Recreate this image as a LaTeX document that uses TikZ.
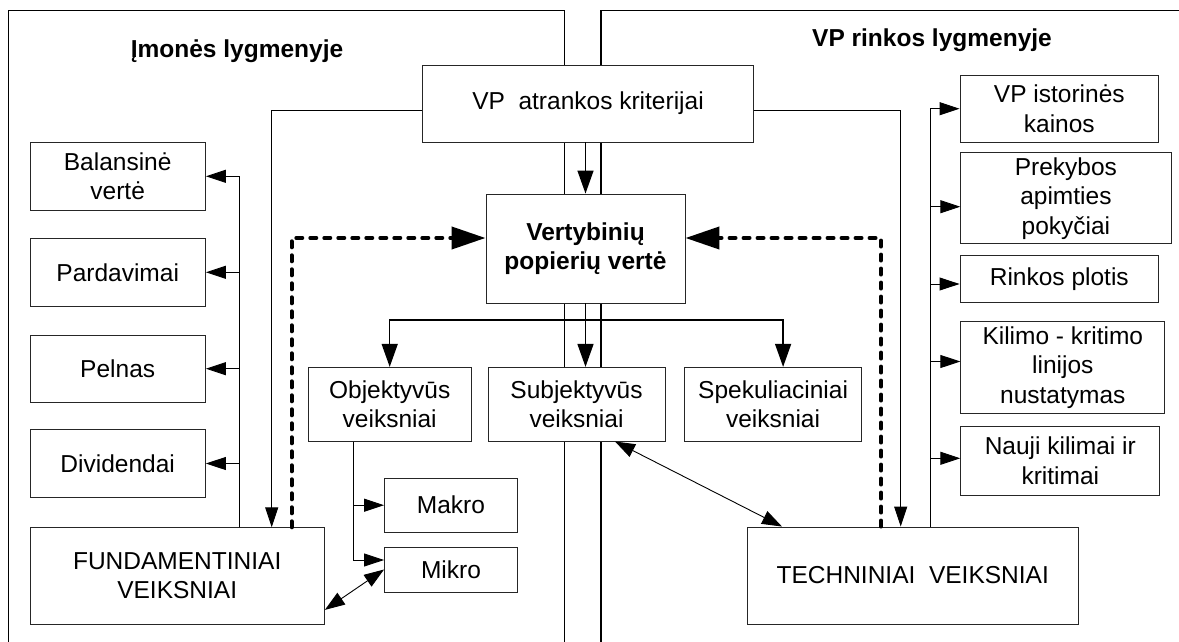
\documentclass[tikz,border=0pt]{standalone}
\usepackage{fontspec}
\setmainfont{Liberation Sans}
\usetikzlibrary{arrows.meta}
\begin{document}
\begin{tikzpicture}[x=1pt, y=-1pt,
      every node/.style={font=\fontsize{24.5}{29.5}\selectfont},
      strong/.style={font=\fontsize{24.5}{29.5}\selectfont\bfseries},
      box/.style={draw=black!85, fill=white, line width=0.9pt, align=center, inner sep=2pt},
      panel/.style={line width=1.6pt},
      conn/.style={line width=0.9pt, -{Triangle[length=20pt,width=13pt]}},
      mainconn/.style={line width=1.4pt, -{Triangle[length=23pt,width=16pt]}},
      twoway/.style={line width=0.9pt, {Triangle[length=20pt,width=14pt]}-{Triangle[length=20pt,width=14pt]}},
      feedback/.style={line width=4pt, dash pattern=on 6pt off 8pt, line cap=round, -{Triangle[length=34pt,width=22pt]}}]
   \useasboundingbox (0,0) rectangle (1179,642);
   \draw[panel] (8.4,642) -- (8.4,10.7) -- (564.5,10.7) -- (564.5,642);
   \draw[panel] (601,642) -- (601,10.7) -- (1179,10.7);
   \node[strong, anchor=base] (firmttl) at (237,57.3) {Įmonės lygmenyje};
   \node[strong, anchor=base] (rinkttl) at (932,46.7) {VP rinkos lygmenyje};
   \node[box, minimum width=331pt, minimum height=77pt] (vp) at (588,103.5) {VP\ \ atrankos kriterijai};
   \node[box, strong, minimum width=199pt, minimum height=109pt] (vert) at (585.5,248.5) {Vertybinių\\popierių vertė};
   \node[box, minimum width=175.5pt, minimum height=67.3pt] (balans) at (117.7,176.3) {Balansinė\\vertė};
   \node[box, minimum width=175.5pt, minimum height=67.3pt] (pard) at (117.7,272.3) {Pardavimai};
   \node[box, minimum width=175.5pt, minimum height=67.3pt] (pelnas) at (117.7,368.7) {Pelnas};
   \node[box, minimum width=175.5pt, minimum height=67.3pt] (divid) at (117.7,463.5) {Dividendai};
   \node[box, minimum width=294.4pt, minimum height=96.3pt] (fund) at (177.2,575.9) {FUNDAMENTINIAI\\VEIKSNIAI};
   \node[box, minimum width=163.5pt, minimum height=73.7pt] (obj) at (389.7,404.2) {Objektyvūs\\veiksniai};
   \node[box, minimum width=177pt, minimum height=73.7pt] (subj) at (576.5,404.2) {Subjektyvūs\\veiksniai};
   \node[box, minimum width=177.2pt, minimum height=73.7pt] (spek) at (773.1,404.2) {Spekuliaciniai\\veiksniai};
   \node[box, minimum width=133pt, minimum height=53.7pt] (makro) at (451,505.2) {Makro};
   \node[box, minimum width=133pt, minimum height=45pt] (mikro) at (451,569.5) {Mikro};
   \node[box, minimum width=198.6pt, minimum height=67.3pt] (istor) at (1059.3,108.7) {VP istorinės\\kainos};
   \node[box, minimum width=210.2pt, minimum height=91pt] (prek) at (1065.9,198.2) {Prekybos\\apimties\\pokyčiai};
   \node[box, minimum width=198.6pt, minimum height=47.4pt] (plotis) at (1059.3,279) {Rinkos plotis};
   \node[box, minimum width=204pt, minimum height=91.6pt] (kilimo) at (1062.8,367.5) {Kilimo - kritimo\\linijos\\nustatymas};
   \node[box, minimum width=199pt, minimum height=68.3pt] (nauji) at (1060.3,460.8) {Nauji kilimai ir\\kritimai};
   \node[box, minimum width=331pt, minimum height=97pt] (tech) at (912.7,575.5) {TECHNINIAI\ \ VEIKSNIAI};
   \coordinate (fork) at (vert.south |- 0,320);
   \draw[mainconn] (vp.south -| vert.north) -- (vert.north);
   \draw[mainconn] (vert.south) -- (vert.south |- subj.north);
   \draw[mainconn] (fork) -| (obj.north);
   \draw[mainconn] (fork) -| ([xshift=10pt]spek.north);
   \draw[feedback] (fund.north -| 291.6,0) |- ([yshift=10.5pt]vert.west);
   \draw[feedback] (tech.north -| 881,0) |- ([yshift=10.5pt]vert.east);
   \draw[conn] ([yshift=-6.5pt]vp.west) -| (fund.north -| 271.7,0);
   \draw[conn] ([yshift=-6.5pt]vp.east) -| (tech.north -| 900.7,0);
   \draw[conn] (fund.north -| 239,0) |- (balans.east);
   \draw[conn] (fund.north -| 239,0) |- (pard.east);
   \draw[conn] (fund.north -| 239,0) |- (pelnas.east);
   \draw[conn] (fund.north -| 239,0) |- (divid.east);
   \draw[conn] (tech.north -| 930.6,0) |- (istor.west);
   \draw[conn] (tech.north -| 930.6,0) |- ([yshift=-8.5pt]prek.west);
   \draw[conn] (tech.north -| 930.6,0) |- ([yshift=-5pt]plotis.west);
   \draw[conn] (tech.north -| 930.6,0) |- ([yshift=6pt]kilimo.west);
   \draw[conn] (tech.north -| 930.6,0) |- ([yshift=2.5pt]nauji.west);
   \draw[conn] ([xshift=-36pt]obj.south) |- (makro.west);
   \draw[conn] ([xshift=-36pt]obj.south) |- ([yshift=9.5pt]mikro.west);
   \draw[twoway] ([yshift=-34pt]fund.east) -- (mikro.west);
   \draw[twoway] ([xshift=38.5pt]subj.south) -- ([xshift=-130.7pt]tech.north);
\end{tikzpicture}
\end{document}
